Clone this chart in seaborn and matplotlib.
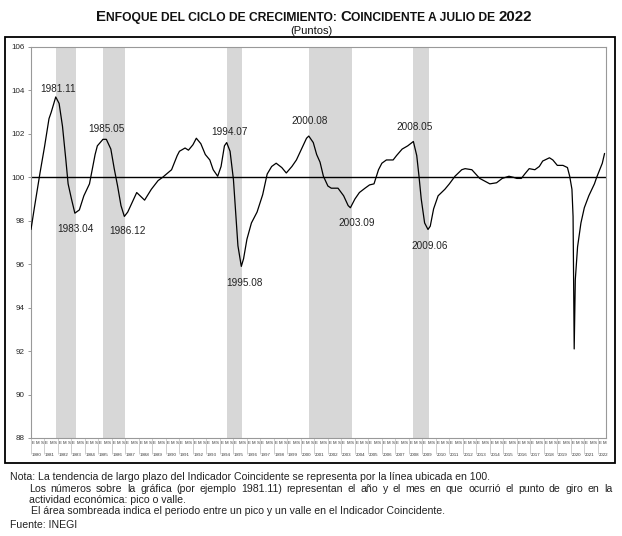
import pandas as pd
import matplotlib
matplotlib.use("Agg")
import matplotlib.pyplot as plt
import seaborn as sns
from matplotlib.patches import Rectangle
from matplotlib.transforms import blended_transform_factory

# --- DATA ---
months = [
    "1980-01", "1980-04", "1980-09", "1981-01", "1981-05", "1981-07", "1981-11",
    "1982-02", "1982-05", "1982-08", "1982-10", "1983-01", "1983-04", "1983-08",
    "1983-12", "1984-05", "1984-10", "1984-12", "1985-05", "1985-08", "1985-12",
    "1986-03", "1986-06", "1986-09", "1986-12", "1987-03", "1987-07", "1987-11",
    "1988-06", "1988-12", "1989-06", "1989-10", "1990-06", "1990-11", "1991-01",
    "1991-06", "1991-09", "1992-01", "1992-04", "1992-08", "1992-12", "1993-04",
    "1993-07", "1993-11", "1994-02", "1994-05", "1994-07", "1994-10", "1995-01",
    "1995-03", "1995-05", "1995-08", "1995-10", "1996-01", "1996-05", "1996-10",
    "1997-03", "1997-07", "1997-11", "1998-03", "1998-08", "1998-12", "1999-05",
    "1999-09", "2000-02", "2000-06", "2000-08", "2000-12", "2001-03", "2001-06",
    "2001-09", "2002-01", "2002-04", "2002-10", "2003-03", "2003-07", "2003-09",
    "2004-01", "2004-05", "2004-10", "2005-02", "2005-06", "2005-10", "2006-01",
    "2006-05", "2006-11", "2007-02", "2007-07", "2007-12", "2008-05", "2008-08",
    "2008-10", "2008-12", "2009-03", "2009-06", "2009-08", "2009-11", "2010-03",
    "2010-09", "2011-01", "2011-06", "2011-12", "2012-03", "2012-09", "2013-04",
    "2014-01", "2014-07", "2014-12", "2015-06", "2015-10", "2016-01", "2016-05",
    "2016-08", "2016-12", "2017-05", "2017-09", "2017-12", "2018-06", "2018-09",
    "2019-01", "2019-06", "2019-10", "2019-12", "2020-02", "2020-03", "2020-04",
    "2020-05", "2020-07", "2020-10", "2021-01", "2021-05", "2021-10", "2021-12",
    "2022-05", "2022-07",
]
values = [
    97.6, 98.6, 100.2, 101.4, 102.7, 103.0, 103.7,
    103.4, 102.35, 100.8, 99.7, 99.0, 98.35, 98.5,
    99.15, 99.7, 101.05, 101.45, 101.75, 101.75, 101.3,
    100.4, 99.6, 98.7, 98.2, 98.4, 98.85, 99.3,
    98.95, 99.45, 99.85, 100.0, 100.35, 101.0, 101.2,
    101.35, 101.25, 101.5, 101.8, 101.55, 101.05, 100.8,
    100.35, 100.05, 100.5, 101.45, 101.6, 101.2, 99.9,
    98.4, 96.85, 95.9, 96.25, 97.15, 97.9, 98.4,
    99.2, 100.15, 100.5, 100.65, 100.45, 100.2, 100.5,
    100.8, 101.35, 101.8, 101.9, 101.6, 101.05, 100.7,
    100.05, 99.6, 99.5, 99.5, 99.15, 98.7, 98.6,
    99.0, 99.3, 99.5, 99.65, 99.7, 100.35, 100.65,
    100.8, 100.8, 101.0, 101.3, 101.45, 101.65, 101.0,
    100.05, 99.0, 97.9, 97.6, 97.75, 98.55, 99.15,
    99.45, 99.7, 100.05, 100.35, 100.4, 100.35, 99.95,
    99.7, 99.75, 99.95, 100.05, 100.0, 99.95, 99.95,
    100.15, 100.4, 100.35, 100.5, 100.75, 100.9, 100.8,
    100.55, 100.55, 100.45, 100.05, 99.45, 98.2, 92.1,
    95.3, 96.8, 97.9, 98.6, 99.15, 99.7, 100.0,
    100.65, 101.1,
]

peaks = ["1981-11", "1985-05", "1994-07", "2000-08", "2008-05"]
troughs = ["1983-04", "1986-12", "1995-08", "2003-09", "2009-06"]
years = list(range(1980, 2023))
month_letters = ["E", "M", "S"]
y_ticks = list(range(88, 107, 2))

title_parts = [("E", True), ("NFOQUE DEL CICLO DE CRECIMIENTO: ", False),
               ("C", True), ("OINCIDENTE A JULIO DE ", False), ("2022", True)]
subtitle = "(Puntos)"
notes = [
    "Nota: La tendencia de largo plazo del Indicador Coincidente se representa por la línea ubicada en 100.",
    "Los números sobre la gráfica (por ejemplo 1981.11) representan el año y el mes en que ocurrió el punto de giro en la",
    "actividad económica: pico o valle.",
    "El área sombreada indica el periodo entre un pico y un valle en el Indicador Coincidente.",
]
source = "Fuente: INEGI"

# label offsets in pixels (x, y) for the turning point labels
peak_offsets = [(2, 8), (3, 10), (3, 11), (1, 15), (1, 14)]
trough_offsets = [(1, -16), (3, -15), (3, -17), (6, -15), (2, -17)]


def to_dec(s):
    y, m = s.split("-")
    return int(y) + (int(m) - 1) / 12


df = pd.DataFrame({"t": [to_dec(m) for m in months], "valor": values})
lookup = dict(zip(months, values))

# --- PLOT ---
sns.set_style("white")
plt.rcParams["font.family"] = ["Liberation Sans", "DejaVu Sans"]

W, H = 622, 536
fig = plt.figure(figsize=(W / 100, H / 100), dpi=100)
ax = fig.add_axes([31 / W, 1 - 438 / H, (605.5 - 31) / W, (438 - 47) / H])

for p, tr in zip(peaks, troughs):
    ax.axvspan(to_dec(p), to_dec(tr) + 1 / 12, color="#d7d7d7", lw=0, zorder=0)

ax.axhline(100, color="black", lw=1.0, zorder=2)
sns.lineplot(data=df, x="t", y="valor", color="black", lw=0.9, ax=ax, zorder=3)

for dates, offs in [(peaks, peak_offsets), (troughs, trough_offsets)]:
    for d, (dx, dy) in zip(dates, offs):
        ax.annotate(d.replace("-", "."), (to_dec(d), lookup[d]), xytext=(dx, dy),
                    textcoords="offset pixels", ha="center", va="center",
                    fontsize=7.2, color="#222222")

ax.set_xlim(1980, 2022.57)
ax.set_ylim(88, 106)
ax.set_yticks(y_ticks)
ax.set_yticklabels([str(v) for v in y_ticks], fontsize=5.8)
ax.set_xticks(years)
ax.set_xticklabels([])
ax.tick_params(axis="y", length=2.5, width=0.6, color="#888888", pad=2, left=True)
ax.tick_params(axis="x", length=11.5, width=0.5, color="#bbbbbb", bottom=True)
ax.set_xlabel("")
ax.set_ylabel("")
for s in ax.spines.values():
    s.set_color("#999999")
    s.set_linewidth(0.8)

# two-row date labels under the axis
tr = blended_transform_factory(ax.transData, ax.transAxes)
for yr in years:
    letters = month_letters[:2] if yr == years[-1] else month_letters
    for i, L in enumerate(letters):
        ax.text(yr + i * 4 / 12 + 0.04, -0.008, L, transform=tr, fontsize=3.2,
                ha="left", va="top", color="#333333")
    ax.text(yr + 0.04, -0.038, str(yr), transform=tr, fontsize=3.2,
            ha="left", va="top", color="#333333")

# outer frame
fig.add_artist(Rectangle((5 / W, 1 - 463 / H), 610 / W, 426 / H, transform=fig.transFigure,
                         fill=False, lw=1.3, ec="black"))

renderer = fig.canvas.get_renderer()

# small caps title
pieces = []
for txt, big in title_parts:
    t = fig.text(0, 1 - 21 / H, txt, fontsize=10.8 if big else 8.7, fontweight="bold",
                 ha="left", va="baseline", color="#111111")
    pieces.append(t)
widths = [p.get_window_extent(renderer).width for p in pieces]
x = 314 - sum(widths) / 2
for p, w in zip(pieces, widths):
    p.set_x(x / W)
    x += w
fig.text(311 / W, 1 - 31 / H, subtitle, fontsize=8, ha="center", va="center", color="#111111")

# notes
note_kw = dict(fontsize=7.6, ha="left", va="center", color="#222222")
fig.text(10 / W, 1 - 477 / H, notes[0], **note_kw)

# justified second line
words = notes[1].split(" ")
wtexts = [fig.text(0, 1 - 489 / H, w, **note_kw) for w in words]
ww = [t.get_window_extent(renderer).width for t in wtexts]
x0, x1 = 29, 612
gap = (x1 - x0 - sum(ww)) / (len(words) - 1)
x = x0
for t, w in zip(wtexts, ww):
    t.set_x(x / W)
    x += w + gap

fig.text(29 / W, 1 - 500 / H, notes[2], **note_kw)
fig.text(31 / W, 1 - 511 / H, notes[3], **note_kw)
fig.text(10 / W, 1 - 525 / H, source, **note_kw)

fig.savefig("out.png", dpi=100)
